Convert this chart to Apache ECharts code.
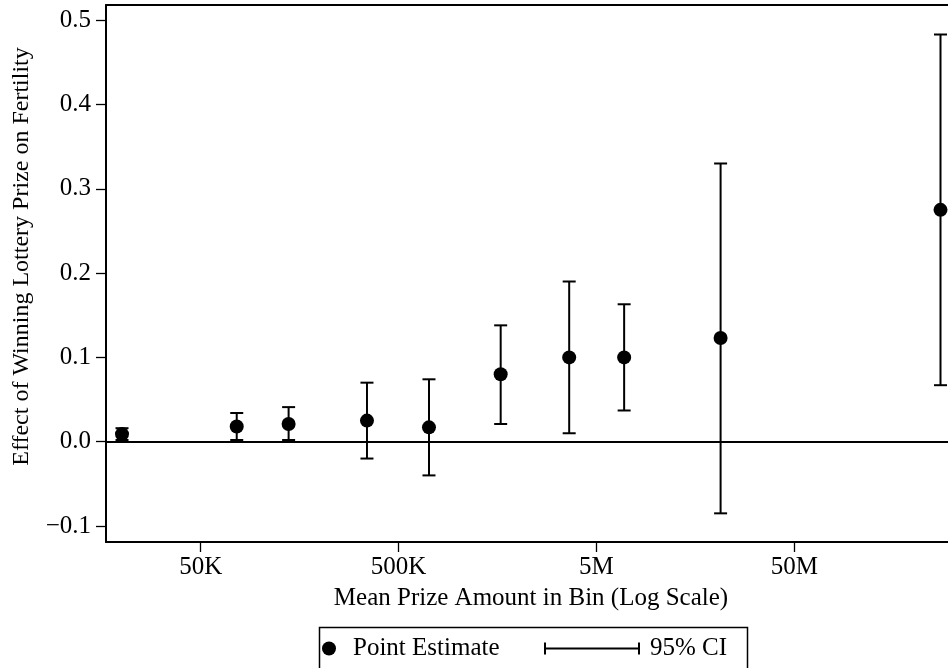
<!DOCTYPE html>
<html>
<head>
<meta charset="utf-8">
<script src="https://cdn.jsdelivr.net/npm/echarts@6/dist/echarts.min.js"></script>
<style>
  html, body { margin: 0; padding: 0; background: #fff; }
  #chart { width: 948px; height: 668px; }
</style>
</head>
<body>
<div id="chart"></div>
<script>
// Mean prize amount in each bin (currency units)
const prizeMeans = [20000, 76000, 139000, 346000, 712000, 1640000, 3640000, 6900000, 21200000, 274000000];
// Point estimates
const estimates = [0.009, 0.018, 0.021, 0.025, 0.017, 0.080, 0.100, 0.100, 0.123, 0.275];
// 95% confidence interval bounds
const ciLower = [0.002, 0.002, 0.002, -0.020, -0.040, 0.021, 0.010, 0.037, -0.085, 0.067];
const ciUpper = [0.016, 0.034, 0.041, 0.070, 0.074, 0.138, 0.190, 0.163, 0.330, 0.483];
// Axis ticks
const xTickValues = [50000, 500000, 5000000, 50000000];
const xTickLabels = ['50K', '500K', '5M', '50M'];
const yTickValues = [-0.1, 0.0, 0.1, 0.2, 0.3, 0.4, 0.5];

const FONT = 'Liberation Serif';
const FS = 25;
const lg = v => Math.log10(v);

const xMin = lg(16600), xMax = lg(2.99e8);
const yMin = -0.119, yMax = 0.518;

const pointData = prizeMeans.map((p, i) => [lg(p), estimates[i]]);
const ciData = prizeMeans.map((p, i) => [lg(p), ciLower[i], ciUpper[i]]);

const labelMap = {};
xTickValues.forEach((v, i) => { labelMap[lg(v).toFixed(6)] = xTickLabels[i]; });

const chart = echarts.init(document.getElementById('chart'), null, { renderer: 'canvas' });

const option = {
  backgroundColor: '#ffffff',
  animation: false,
  grid: { left: 106, top: 5, right: 0, bottom: 126, containLabel: false },
  xAxis: [{
    type: 'value',
    min: xMin, max: xMax,
    name: 'Mean Prize Amount in Bin (Log Scale)',
    nameLocation: 'middle',
    nameGap: 44,
    nameTextStyle: { fontFamily: FONT, fontSize: FS, color: '#000', padding: [0, 0, 0, 8] },
    axisLine: { show: true, onZero: false, lineStyle: { color: '#000', width: 2 } },
    axisTick: { show: true, inside: false, length: 10, lineStyle: { color: '#000', width: 1.3 },
      customValues: xTickValues.map(lg) },
    axisLabel: { show: true, margin: 13, fontFamily: FONT, fontSize: FS, color: '#000',
      customValues: xTickValues.map(lg),
      formatter: v => labelMap[Number(v).toFixed(6)] || '' },
    splitLine: { show: false }
  }, {
    type: 'value',
    position: 'top',
    min: xMin, max: xMax,
    axisLine: { show: true, onZero: false, lineStyle: { color: '#000', width: 2 } },
    axisTick: { show: false },
    axisLabel: { show: false },
    splitLine: { show: false }
  }],
  yAxis: {
    type: 'value',
    min: yMin, max: yMax,
    name: 'Effect of Winning Lottery Prize on Fertility',
    nameLocation: 'middle',
    nameGap: 72,
    nameTextStyle: { fontFamily: FONT, fontSize: 24, color: '#000', padding: [0, 0, 0, 34] },
    axisLine: { show: true, onZero: false, lineStyle: { color: '#000', width: 2 } },
    axisTick: { show: true, inside: false, length: 10, lineStyle: { color: '#000', width: 1.3 },
      customValues: yTickValues },
    axisLabel: { show: true, margin: 15, fontFamily: FONT, fontSize: FS, color: '#000',
      customValues: yTickValues,
      formatter: v => (v < 0 ? '\u2212' : '') + Math.abs(v).toFixed(1) },
    splitLine: { show: false }
  },
  legend: [{
    left: 322, top: 636, padding: 0,
    data: [{ name: 'Point Estimate', icon: 'circle' }],
    itemWidth: 14, itemHeight: 14,
    itemStyle: { opacity: 1, color: '#000' },
    textStyle: { fontFamily: FONT, fontSize: FS, color: '#000', padding: [0, 0, 0, 12] },
    selectedMode: false
  }, {
    left: 544, top: 636, padding: 0,
    data: [{ name: '95% CI', icon: 'path://M0,0h2v12h-2z M0,5h96v2h-96z M94,0h2v12h-2z' }],
    itemWidth: 96, itemHeight: 12,
    itemStyle: { opacity: 1, color: '#000' },
    textStyle: { fontFamily: FONT, fontSize: FS, color: '#000', padding: [0, 0, 0, 5] },
    selectedMode: false
  }],
  graphic: [{
    type: 'rect',
    left: 317, top: 625,
    shape: { width: 428, height: 60 },
    style: { fill: 'none', stroke: '#000', lineWidth: 1.5 },
    silent: true
  }],
  series: [{
    name: '95% CI',
    type: 'custom',
    z: 2,
    itemStyle: { color: '#000' },
    data: ciData,
    encode: { x: 0, y: [1, 2] },
    renderItem: function (params, api) {
      const x = api.value(0);
      const lo = api.coord([x, api.value(1)]);
      const hi = api.coord([x, api.value(2)]);
      const h = 6.5;
      const st = { stroke: '#000', lineWidth: 2, fill: 'none' };
      return {
        type: 'group',
        children: [
          { type: 'line', shape: { x1: lo[0], y1: lo[1], x2: hi[0], y2: hi[1] }, style: st },
          { type: 'line', shape: { x1: hi[0] - h, y1: hi[1], x2: hi[0] + h, y2: hi[1] }, style: st },
          { type: 'line', shape: { x1: lo[0] - h, y1: lo[1], x2: lo[0] + h, y2: lo[1] }, style: st }
        ]
      };
    }
  }, {
    name: 'Point Estimate',
    type: 'scatter',
    z: 3,
    symbol: 'circle',
    symbolSize: 14,
    itemStyle: { color: '#000', opacity: 1 },
    data: pointData,
    markLine: {
      silent: true,
      symbol: 'none',
      label: { show: false },
      lineStyle: { color: '#000', width: 2, type: 'solid', opacity: 1 },
      data: [{ yAxis: 0 }]
    }
  }]
};

chart.setOption(option);
</script>
</body>
</html>
